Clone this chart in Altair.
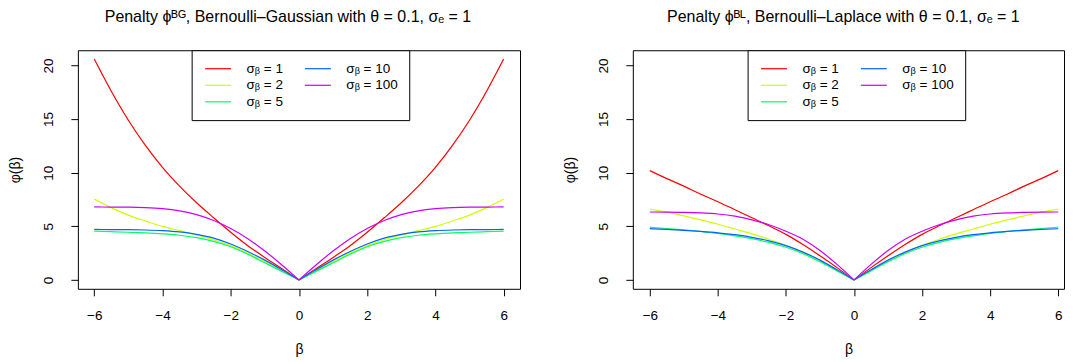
import altair as alt
import pandas as pd

# ---------------- data ----------------
beta = [-6.0, -5.5, -5.0, -4.5, -4.0, -3.5, -3.0, -2.5, -2.0, -1.5, -1.0, -0.5, 0.0,
        0.5, 1.0, 1.5, 2.0, 2.5, 3.0, 3.5, 4.0, 4.5, 5.0, 5.5, 6.0]

sigma_labels = ["σᵦ = 1", "σᵦ = 2", "σᵦ = 5", "σᵦ = 10", "σᵦ = 100"]
sigma_colors = ["#FF0000", "#CCFF00", "#00FF66", "#0066FF", "#CC00FF"]

# Bernoulli-Gaussian penalty
bg_s1 = [20.6, 17.6, 14.9, 12.55, 10.5, 8.75, 7.2, 5.8, 4.45, 3.2, 2.1, 1.05, 0.0,
         1.05, 2.1, 3.2, 4.45, 5.8, 7.2, 8.75, 10.5, 12.55, 14.9, 17.6, 20.6]
bg_s2 = [7.55, 6.75, 6.05, 5.5, 5.0, 4.6, 4.2, 3.75, 3.2, 2.5, 1.7, 0.85, 0.0,
         0.85, 1.7, 2.5, 3.2, 3.75, 4.2, 4.6, 5.0, 5.5, 6.05, 6.75, 7.55]
bg_s5 = [4.55, 4.5, 4.45, 4.39, 4.3, 4.17, 3.95, 3.6, 3.1, 2.4, 1.6, 0.8, 0.0,
         0.8, 1.6, 2.4, 3.1, 3.6, 3.95, 4.17, 4.3, 4.39, 4.45, 4.5, 4.55]
bg_s10 = [4.71, 4.7, 4.69, 4.66, 4.6, 4.48, 4.25, 3.9, 3.35, 2.65, 1.85, 0.95, 0.0,
          0.95, 1.85, 2.65, 3.35, 3.9, 4.25, 4.48, 4.6, 4.66, 4.69, 4.7, 4.71]
bg_s100 = [6.81, 6.8, 6.79, 6.75, 6.65, 6.45, 6.1, 5.55, 4.8, 3.85, 2.7, 1.4, 0.0,
           1.4, 2.7, 3.85, 4.8, 5.55, 6.1, 6.45, 6.65, 6.75, 6.79, 6.8, 6.81]

# Bernoulli-Laplace penalty
bl_s1 = [10.2, 9.45, 8.75, 8.0, 7.3, 6.55, 5.8, 5.05, 4.25, 3.3, 2.25, 1.15, 0.0,
         1.15, 2.25, 3.3, 4.25, 5.05, 5.8, 6.55, 7.3, 8.0, 8.75, 9.45, 10.2]
bl_s2 = [6.62, 6.32, 5.98, 5.6, 5.2, 4.75, 4.3, 3.8, 3.2, 2.55, 1.8, 0.9, 0.0,
         0.9, 1.8, 2.55, 3.2, 3.8, 4.3, 4.75, 5.2, 5.6, 5.98, 6.32, 6.62]
bl_s5 = [4.92, 4.8, 4.67, 4.52, 4.35, 4.12, 3.85, 3.5, 3.05, 2.45, 1.7, 0.85, 0.0,
         0.85, 1.7, 2.45, 3.05, 3.5, 3.85, 4.12, 4.35, 4.52, 4.67, 4.8, 4.92]
bl_s10 = [4.78, 4.71, 4.63, 4.53, 4.4, 4.22, 3.98, 3.65, 3.2, 2.6, 1.85, 0.95, 0.0,
          0.95, 1.85, 2.6, 3.2, 3.65, 3.98, 4.22, 4.4, 4.53, 4.63, 4.71, 4.78]
bl_s100 = [6.34, 6.33, 6.3, 6.25, 6.15, 5.95, 5.6, 5.15, 4.55, 3.8, 2.75, 1.45, 0.0,
           1.45, 2.75, 3.8, 4.55, 5.15, 5.6, 5.95, 6.15, 6.25, 6.3, 6.33, 6.34]

x_ticks = [-6, -4, -2, 0, 2, 4, 6]
y_ticks = [0, 5, 10, 15, 20]

title_bg = "Penalty ϕᴮᴳ, Bernoulli–Gaussian with θ = 0.1, σₑ = 1"
title_bl = "Penalty ϕᴮᴸ, Bernoulli–Laplace with θ = 0.1,  σₑ = 1"


def make_df(series):
    rows = []
    for lab, vals in zip(sigma_labels, series):
        for b, v in zip(beta, vals):
            if b <= 0:
                rows.append({"beta": b, "phi": v, "sigma": lab, "side": "neg"})
            if b >= 0:
                rows.append({"beta": b, "phi": v, "sigma": lab, "side": "pos"})
    return pd.DataFrame(rows)


df_bg = make_df([bg_s1, bg_s2, bg_s5, bg_s10, bg_s100])
df_bl = make_df([bl_s1, bl_s2, bl_s5, bl_s10, bl_s100])

FONT = "Liberation Sans"


def panel(df, title, dx, xdom, width, legend_x):
    return alt.Chart(
        df,
        title=alt.TitleParams(
            text=title, font=FONT, fontSize=16, fontWeight="normal",
            color="black", anchor="middle", offset=25, dx=dx,
        ),
    ).mark_line(strokeWidth=1.2, interpolate="monotone").encode(
        x=alt.X(
            "beta:Q",
            scale=alt.Scale(domain=xdom, nice=False, zero=False),
            axis=alt.Axis(values=x_ticks, title="β", labelPadding=13, titlePadding=20),
        ),
        y=alt.Y(
            "phi:Q",
            scale=alt.Scale(domain=[-0.824, 21.424], nice=False, zero=False),
            axis=alt.Axis(values=y_ticks, title="φ(β)", labelAngle=270,
                          labelAlign="center", labelBaseline="alphabetic",
                          labelPadding=18, titlePadding=19),
        ),
        color=alt.Color(
            "sigma:N",
            title=None,
            scale=alt.Scale(domain=sigma_labels, range=sigma_colors),
            legend=alt.Legend(
                orient="none", legendX=legend_x, legendY=0, columns=2,
                symbolType="M-2,0H2", symbolSize=169, symbolStrokeWidth=1.2,
                symbolOffset=8, labelOffset=21,
                labelFont=FONT, labelFontSize=13.5, labelColor="black",
                columnPadding=19, rowPadding=2.6,
                padding=11, strokeColor="black", fillColor="white",
            ),
        ),
        detail="side:N",
    ).properties(width=width, height=239)


left = panel(df_bg, title_bg, -11, [-6.48, 6.48], 443, 114)
right = panel(df_bl, title_bl, -5, [-6.5, 6.17], 432, 115)

chart = alt.hconcat(left, right, spacing=42).resolve_scale(
    color="independent"
).resolve_legend(color="independent").properties(
    padding=0
).configure_view(
    stroke="black", strokeWidth=1
).configure_axis(
    domain=False, grid=False, ticks=True, tickColor="black", tickSize=7,
    labelFont=FONT, labelFontSize=13.5, labelColor="black",
    titleFont=FONT, titleFontSize=14, titleFontWeight="normal", titleColor="black",
)

chart.save("out.html", embed_options={"renderer": "svg", "actions": False})
